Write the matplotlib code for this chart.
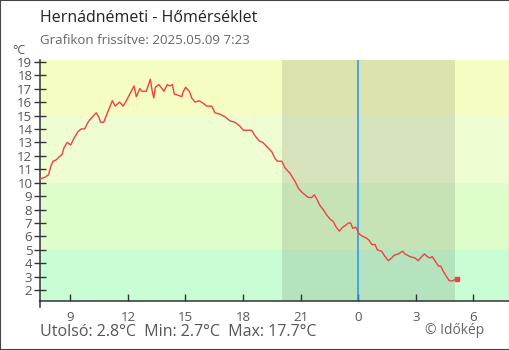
import matplotlib
matplotlib.use("Agg")
import matplotlib.pyplot as plt
from matplotlib.patches import Rectangle

plt.rcParams['font.family'] = ['Open Sans', 'DejaVu Sans']

# hours since midnight of 2025.05.08 (values > 24 are next morning)
hours = [7.46, 7.67, 7.87, 7.98, 8.10, 8.27, 8.40, 8.57, 8.67, 8.84, 9.02, 9.19,
         9.40, 9.57, 9.75, 9.92, 10.09, 10.35, 10.48, 10.58, 10.74, 10.88, 11.05,
         11.19, 11.34, 11.57, 11.75, 11.92, 12.10, 12.32, 12.44, 12.62, 12.74,
         12.96, 13.17, 13.27, 13.35, 13.43, 13.61, 13.78, 13.88, 14.05, 14.20,
         14.32, 14.42, 14.63, 14.81, 14.89, 15.01, 15.20, 15.33, 15.50, 15.72,
         15.93, 16.11, 16.37, 16.54, 16.80, 17.06, 17.32, 17.58, 17.84, 18.02,
         18.45, 18.62, 18.85, 19.03, 19.23, 19.50, 19.67, 19.79, 20.02, 20.19,
         20.45, 20.71, 20.88, 21.06, 21.23, 21.40, 21.58, 21.71, 21.84, 22.01,
         22.18, 22.36, 22.53, 22.71, 22.85, 23.02, 23.20, 23.32, 23.49, 23.61,
         23.72, 23.87, 23.98, 24.04, 24.24, 24.41, 24.58, 24.71, 24.88, 25.00,
         25.23, 25.40, 25.57, 25.75, 25.87, 26.09, 26.32, 26.44, 26.70, 26.96,
         27.13, 27.31, 27.45, 27.60, 27.74, 27.86, 28.00, 28.18, 28.30, 28.44,
         28.61, 28.75, 28.93, 29.05, 29.17]
temps = [10.3, 10.4, 10.6, 11.2, 11.6, 11.7, 11.9, 12.1, 12.6, 13.0, 12.8, 13.3,
         13.8, 14.0, 14.0, 14.5, 14.8, 15.2, 14.9, 14.5, 14.5, 15.0, 15.6,
         16.1, 15.7, 16.0, 15.7, 16.1, 16.6, 17.2, 16.4, 17.0, 16.8,
         16.8, 17.7, 16.8, 16.3, 17.1, 17.3, 17.0, 16.8, 17.3, 17.2,
         17.3, 16.6, 16.5, 16.4, 16.8, 17.1, 16.8, 16.3, 16.0, 16.1,
         15.9, 15.7, 15.7, 15.2, 15.1, 14.9, 14.6, 14.5, 14.2, 13.9,
         13.9, 13.5, 13.1, 13.0, 12.7, 12.3, 11.8, 11.6, 11.6, 11.1,
         10.7, 10.1, 9.6, 9.3, 9.1, 8.9, 8.9, 9.1, 8.8, 8.3,
         8.0, 7.6, 7.3, 7.1, 6.7, 6.4, 6.7, 6.8, 7.0, 7.0,
         6.6, 6.7, 6.4, 6.2, 6.0, 5.9, 5.7, 5.4, 5.4, 5.0,
         4.9, 4.5, 4.2, 4.4, 4.6, 4.7, 4.9, 4.7, 4.5, 4.4,
         4.2, 4.5, 4.7, 4.5, 4.4, 4.5, 4.2, 3.8, 3.8, 3.4,
         3.0, 2.7, 2.7, 2.8, 2.8]

xtick_pos = [9, 12, 15, 18, 21, 24, 27, 30]
xtick_labels = ['9', '12', '15', '18', '21', '0', '3', '6']
yticks = list(range(2, 20))
bands = [(-50, 5, '#c9fdd4'), (5, 10, '#ddfdcb'), (10, 15, '#effdd3'), (15, 50, '#f6fdc3')]
sunset, sunrise = 20.03, 29.05
midnight = 24

title = 'Hernádnémeti - Hőmérséklet'
subtitle = 'Grafikon frissítve: 2025.05.09 7:23'
footer = 'Utolsó: 2.8°C  Min: 2.7°C  Max: 17.7°C'

fig = plt.figure(figsize=(5.1, 3.5), dpi=100)
ax = fig.add_axes([40.3 / 510, 1 - 300.7 / 350, (509 - 40.3) / 510, (300.7 - 60) / 350])

xmin, xmax = 7.437, 31.86
ymin, ymax = 1.22, 19.13
for lo, hi, c in bands:
    ax.axhspan(lo, hi, color=c, lw=0, zorder=0)
ax.axvspan(sunset, sunrise, color='black', alpha=0.1, lw=0, zorder=1)
ax.axvline(midnight, color='#2196f3', lw=1.1, zorder=2)

ax.plot(hours, temps, color='#f04040', lw=1.0, zorder=3)
ax.plot(hours[-1], temps[-1], 's', color='#f04040', ms=2.5, zorder=4)

ax.set_xlim(xmin, xmax)
ax.set_ylim(ymin, ymax)
ax.set_xticks(xtick_pos)
ax.set_xticklabels(xtick_labels)
ax.set_yticks(yticks)

for s in ['top', 'right']:
    ax.spines[s].set_visible(False)
for s in ['left', 'bottom']:
    ax.spines[s].set_color('#333333')
    ax.spines[s].set_linewidth(1.1)
ax.tick_params(axis='y', direction='inout', length=8.5, width=1, color='#333333',
               labelsize=9.5, labelcolor='#555555', pad=1.5)
ax.tick_params(axis='x', direction='in', length=5, width=1, color='#333333',
               labelsize=9.5, labelcolor='#555555', pad=7.5)
# spine runs a little below the x axis
ax.plot([0, 0], [0, -0.025], transform=ax.transAxes, color='#333333', lw=1.1, clip_on=False)

fig.text(40.5 / 510, 1 - 18 / 350, title, fontsize=11.5, color='#222222', va='center')
fig.text(40.5 / 510, 1 - 40.5 / 350, subtitle, fontsize=9.5, color='#666666', va='center')
fig.text(12 / 510, 1 - 51 / 350, '°C', fontsize=9, color='#555555', va='center')
fig.text(40.5 / 510, 1 - 332 / 350, footer, fontsize=11.5, color='#555555', va='center')
fig.text(425 / 510, 1 - 331 / 350, '© Időkép', fontsize=10, color='#666666', va='center')

fig.patches.append(Rectangle((0, 0), 1, 1, transform=fig.transFigure, fill=False,
                             edgecolor='#444444', lw=1.5))

fig.savefig('out.png', dpi=100)
